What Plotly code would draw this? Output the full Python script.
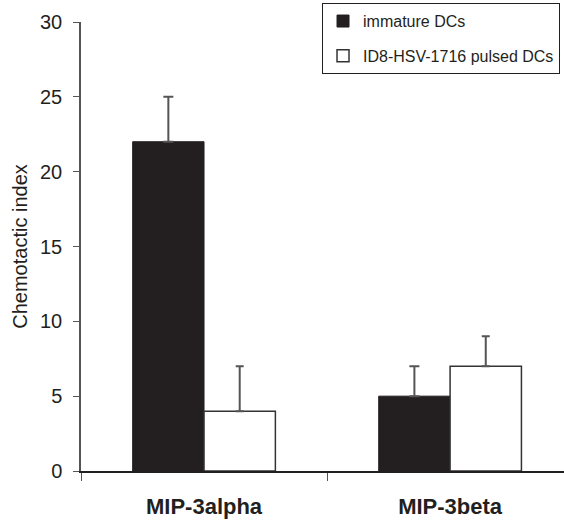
import plotly.graph_objects as go

categories = ["MIP-3alpha", "MIP-3beta"]
immature = [22, 5]
immature_err = [3, 2]
pulsed = [4, 7]
pulsed_err = [3, 2]
series_names = ["immature DCs", "ID8-HSV-1716 pulsed DCs"]

FONT = "Arial, Liberation Sans, sans-serif"

fig = go.Figure()
fig.add_trace(go.Bar(
    x=categories, y=immature, name=series_names[0],
    marker=dict(color="#231f20", line=dict(color="#231f20", width=1)),
    error_y=dict(type="data", array=immature_err, symmetric=False, arrayminus=[0, 0],
                 color="#555555", thickness=2, width=5),
    legendgroup="a",
))
fig.add_trace(go.Bar(
    x=categories, y=pulsed, name=series_names[1],
    marker=dict(color="white", line=dict(color="#333333", width=1.5)),
    error_y=dict(type="data", array=pulsed_err, symmetric=False, arrayminus=[0, 0],
                 color="#555555", thickness=2, width=4),
    legendgroup="b",
))

fig.update_layout(
    width=564, height=523,
    margin=dict(l=81, r=0, t=22, b=52, autoexpand=False),
    paper_bgcolor="white", plot_bgcolor="white",
    barmode="group", bargap=0.42, bargroupgap=0,
    font=dict(family=FONT, color="#231f20"),
    showlegend=True,
    legend=dict(x=0.499, y=1.042, xanchor="left", yanchor="top",
                bordercolor="#231f20", borderwidth=1, bgcolor="white",
                font=dict(size=16, family=FONT), tracegroupgap=11,
                traceorder="grouped", itemwidth=30),
)
fig.update_yaxes(
    range=[0, 30], tickvals=[0, 5, 10, 15, 20, 25, 30],
    showgrid=False, zeroline=False, showline=True, linecolor="#555555", linewidth=1.5,
    ticks="outside", ticklen=6, tickcolor="#555555",
    tickfont=dict(size=20, family=FONT, color="#231f20"),
    ticklabelstandoff=7,
    title=dict(text="Chemotactic index", font=dict(size=20, family=FONT), standoff=7),
)
fig.update_xaxes(
    range=[-0.5, 1.463],
    showgrid=False, showline=True, linecolor="#231f20", linewidth=1.5,
    ticks="outside", tickson="boundaries", ticklen=8, tickcolor="#555555",
    tickfont=dict(size=22, family=FONT, color="#231f20"),
    tickprefix="<b>", ticksuffix="</b>",
    ticklabelstandoff=15,
)

fig.write_html(
    "out.html",
    config={"displayModeBar": False},
    post_script="document.body.style.margin='0';document.body.style.overflow='hidden';",
)
